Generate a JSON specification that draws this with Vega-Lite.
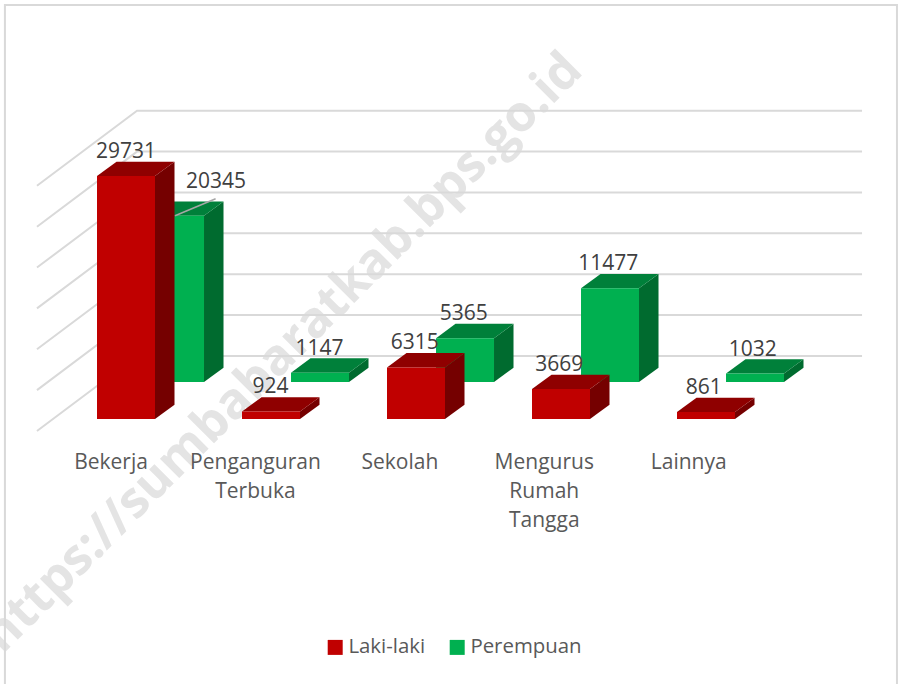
{
"$schema":"https://vega.github.io/schema/vega-lite/v6.json",
"width":901,"height":684,"padding":0,"autosize":{"type":"none"},
"background":"white","view":{"stroke":null},
"config":{"font":"Open Sans"},
"datasets":{
"rows":[
{"category":"Bekerja","series":"Laki-laki","value":29731},
{"category":"Bekerja","series":"Perempuan","value":20345},
{"category":"Penganguran Terbuka","series":"Laki-laki","value":924},
{"category":"Penganguran Terbuka","series":"Perempuan","value":1147},
{"category":"Sekolah","series":"Laki-laki","value":6315},
{"category":"Sekolah","series":"Perempuan","value":5365},
{"category":"Mengurus Rumah Tangga","series":"Laki-laki","value":3669},
{"category":"Mengurus Rumah Tangga","series":"Perempuan","value":11477},
{"category":"Lainnya","series":"Laki-laki","value":861},
{"category":"Lainnya","series":"Perempuan","value":1032}],
"grid":[{"v":0},{"v":5000},{"v":10000},{"v":15000},{"v":20000},{"v":25000},{"v":30000}],
"note":[{"text":"https://sumbabaratkab.bps.go.id"}]
},
"encoding":{
"x":{"field":"px","type":"quantitative","axis":null,"scale":{"domain":[-0.66897,5.5448],"nice":false,"zero":false}},
"y":{"field":"py","type":"quantitative","axis":null,"scale":{"domain":[-32423,51265],"nice":false,"zero":false}}
},
"layer":[
{"data":{"name":"note"},
 "transform":[{"calculate":"1.283","as":"px"},{"calculate":"8066","as":"py"}],
 "mark":{"type":"text","angle":315,"align":"center","baseline":"middle","fontSize":50,"fontWeight":"bold","color":"#e4e4e4"},
 "encoding":{"text":{"field":"text"}}},
{"data":{"values":[{"a":1}]},
 "transform":[{"calculate":"-0.635","as":"px"},{"calculate":"5.517","as":"px2"},{"calculate":"50650","as":"py"},{"calculate":"-33000","as":"py2"}],
 "mark":{"type":"rect","fillOpacity":0,"stroke":"#d9d9d9","strokeWidth":2,"clip":true},
 "encoding":{"x2":{"field":"px2"},"y2":{"field":"py2"}}},
{"data":{"name":"grid"},
 "transform":[{"calculate":"[0,1,2]","as":"t"},{"flatten":["t"]},
  {"calculate":"[-0.414,0.276,5.276][datum.t]","as":"px"},
  {"calculate":"datum.v+(datum.t==0?-1470:7716)","as":"py"}],
 "mark":{"type":"line","color":"#d9d9d9","strokeWidth":2},
 "encoding":{"detail":{"field":"v"},"order":{"field":"t"}}},
{"data":{"name":"rows"},
 "transform":[
  {"calculate":"indexof(['Bekerja','Penganguran Terbuka','Sekolah','Mengurus Rumah Tangga','Lainnya'],datum.category)","as":"i"},
  {"calculate":"datum.i+(datum.series=='Perempuan'?0.338:0)","as":"x0"},
  {"calculate":"datum.series=='Perempuan'?4527:0","as":"b"},
  {"calculate":"datum.b+datum.value","as":"top"},
  {"calculate":"[0,1]","as":"t"},{"flatten":["t"]},
  {"calculate":"datum.x0+0.4+datum.t*0.1345","as":"sx"},
  {"calculate":"datum.top+datum.t*1750","as":"sy"},
  {"calculate":"datum.b+datum.t*1750","as":"sy2"},
  {"calculate":"datum.x0+datum.t*0.1345","as":"tx"}
 ],
 "layer":[
 {"transform":[{"filter":"datum.series=='Perempuan'"},{"calculate":"datum.sx","as":"px"},{"calculate":"datum.sy","as":"py"},{"calculate":"datum.sy2","as":"py2"}],
  "mark":{"type":"area","color":"#006b2f"},
  "encoding":{"y2":{"field":"py2"},"detail":{"field":"category"}}},
 {"transform":[{"filter":"datum.series=='Perempuan'"},{"calculate":"datum.tx","as":"px"},{"calculate":"datum.tx+0.4","as":"px2"},{"calculate":"datum.sy","as":"py"}],
  "mark":{"type":"area","orient":"horizontal","color":"#00803a"},
  "encoding":{"x2":{"field":"px2"},"detail":{"field":"category"}}},
 {"transform":[{"filter":"datum.series=='Perempuan' && datum.t==0"},{"calculate":"datum.x0","as":"px"},{"calculate":"datum.x0+0.4","as":"px2"},{"calculate":"datum.top","as":"py"},{"calculate":"datum.b","as":"py2"}],
  "mark":{"type":"rect"},
  "encoding":{"x2":{"field":"px2"},"y2":{"field":"py2"},
   "color":{"field":"series","type":"nominal","scale":{"domain":["Laki-laki","Perempuan"],"range":["#c00000","#00b050"]},
    "legend":{"title":null,"orient":"none","legendX":325,"legendY":637,"direction":"horizontal","symbolType":"square","symbolSize":225,"symbolStrokeWidth":0,"labelFontSize":20.4,"labelColor":"#595959","labelFont":"Open Sans","labelOffset":3,"columnPadding":21}}}},
 {"transform":[{"filter":"datum.series=='Laki-laki'"},{"calculate":"datum.sx","as":"px"},{"calculate":"datum.sy","as":"py"},{"calculate":"datum.sy2","as":"py2"}],
  "mark":{"type":"area","color":"#750000"},
  "encoding":{"y2":{"field":"py2"},"detail":{"field":"category"}}},
 {"transform":[{"filter":"datum.series=='Laki-laki'"},{"calculate":"datum.tx","as":"px"},{"calculate":"datum.tx+0.4","as":"px2"},{"calculate":"datum.sy","as":"py"}],
  "mark":{"type":"area","orient":"horizontal","color":"#8f0000"},
  "encoding":{"x2":{"field":"px2"},"detail":{"field":"category"}}},
 {"transform":[{"filter":"datum.series=='Laki-laki' && datum.t==0"},{"calculate":"datum.x0","as":"px"},{"calculate":"datum.x0+0.4","as":"px2"},{"calculate":"datum.top","as":"py"},{"calculate":"datum.b","as":"py2"}],
  "mark":{"type":"rect"},
  "encoding":{"x2":{"field":"px2"},"y2":{"field":"py2"},
   "color":{"field":"series","type":"nominal","scale":{"domain":["Laki-laki","Perempuan"],"range":["#c00000","#00b050"]}}}},
 {"transform":[{"filter":"datum.t==0 && datum.category=='Bekerja' && datum.series=='Perempuan'"},{"calculate":"datum.x0+0.2","as":"px"},{"calculate":"datum.px+0.28","as":"px2"},{"calculate":"datum.top","as":"py"},{"calculate":"datum.top+2080","as":"py2"}],
  "mark":{"type":"rule","color":"#a6a6a6","strokeWidth":1.5},
  "encoding":{"x2":{"field":"px2"},"y2":{"field":"py2"}}},
 {"transform":[{"filter":"datum.t==0"},
   {"calculate":"datum.x0+0.2-0.004*datum.i+(datum.category=='Bekerja'&&datum.series=='Perempuan'?0.283:0)","as":"px"},
   {"calculate":"datum.top+(datum.category=='Bekerja'&&datum.series=='Perempuan'?3420:2200)","as":"py"}],
  "mark":{"type":"text","align":"center","baseline":"alphabetic","fontSize":21,"color":"#404040"},
  "encoding":{"text":{"field":"value","type":"nominal"}}},
 {"transform":[{"filter":"datum.t==0 && datum.series=='Laki-laki'"},{"calculate":"datum.i*0.996+0.0966","as":"px"},{"calculate":"-6125","as":"py"}],
  "mark":{"type":"text","align":"center","baseline":"alphabetic","fontSize":21,"color":"#595959","lineBreak":" ","lineHeight":29},
  "encoding":{"text":{"field":"category"}}}
 ]}
]
}
